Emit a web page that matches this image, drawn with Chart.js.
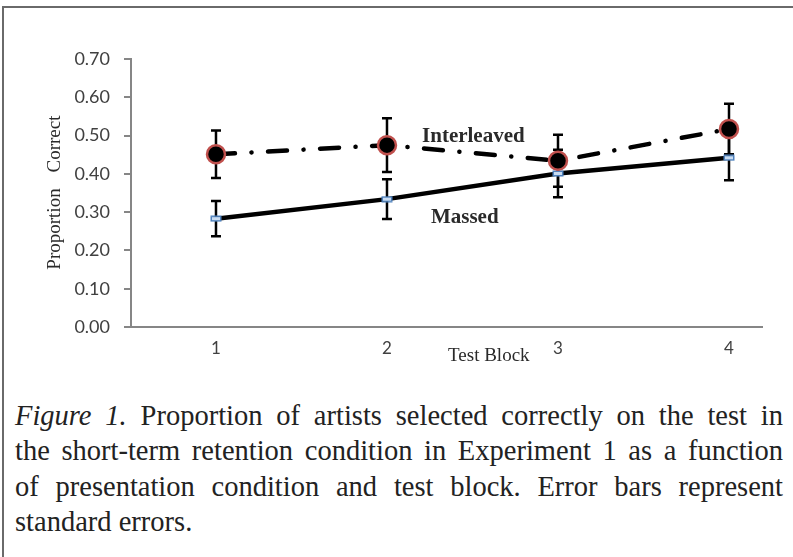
<!DOCTYPE html>
<html>
<head>
<meta charset="utf-8">
<script src="https://cdn.jsdelivr.net/npm/chart.js@4.4.1/dist/chart.umd.min.js"></script>
<style>
  html, body { margin: 0; padding: 0; background: #fff; overflow: hidden; }
  body { width: 793px; height: 557px; position: relative; }
  #frame { position: absolute; left: 2px; top: 6px; width: 820px; height: 600px;
           border-left: 2px solid #6a6a6a; border-top: 2px solid #6a6a6a; }
  #chart { position: absolute; left: 0; top: 0; }
  #caption { position: absolute; left: 15px; top: 398px; width: 768px;
             font-family: "Liberation Serif", "Times New Roman", serif;
             font-size: 28.5px; line-height: 35.3px; color: #222; }
  #caption div { white-space: nowrap; }
</style>
</head>
<body>
<div id="frame"></div>
<canvas id="chart" width="793" height="380"></canvas>
<div id="caption">
  <div><span><i>Figure 1.</i> Proportion of artists selected correctly on the test in</span></div>
  <div><span>the short-term retention condition in Experiment 1 as a function</span></div>
  <div><span>of presentation condition and test block. Error bars represent</span></div>
  <div class="last"><span>standard errors.</span></div>
</div>
<script>
// test blocks on the x axis
const blocks = [1, 2, 3, 4];

// proportion correct
const interleaved = [0.451, 0.475, 0.434, 0.517];
const interleavedErr = [0.062, 0.070, 0.068, 0.066];
const massed = [0.283, 0.334, 0.401, 0.442];
const massedErr = [0.046, 0.052, 0.062, 0.059];

const yTicks = [0, 0.1, 0.2, 0.3, 0.4, 0.5, 0.6, 0.7];

const axisGray = '#868686';

// justify the caption lines by hand (each line keeps its own break)
document.querySelectorAll('#caption div').forEach((line) => {
  if (line.classList.contains('last')) return;
  const span = line.querySelector('span');
  const w = span.getBoundingClientRect().width;
  const gaps = span.textContent.trim().split(/\s+/).length - 1;
  line.style.wordSpacing = ((768 - w) / gaps) + 'px';
});

// little blue box marker for the massed line
const massMark = document.createElement('canvas');
massMark.width = 12;
massMark.height = 7;
const mctx = massMark.getContext('2d');
mctx.fillStyle = '#c9dcf1';
mctx.fillRect(1, 1, 10, 5);
mctx.strokeStyle = '#4f81bd';
mctx.lineWidth = 1.5;
mctx.strokeRect(1.25, 1.25, 9.5, 4.5);

const toPoints = (vals) => blocks.map((b, i) => ({ x: b, y: vals[i] }));

// error bars, drawn under the lines
const errorBars = {
  id: 'errorBars',
  beforeDatasetsDraw(chart) {
    const ctx = chart.ctx;
    const xs = chart.scales.x, ys = chart.scales.y;
    const sets = [[interleaved, interleavedErr], [massed, massedErr]];
    ctx.save();
    ctx.strokeStyle = '#000';
    ctx.lineWidth = 2.5;
    sets.forEach(([vals, errs]) => {
      blocks.forEach((b, i) => {
        const px = xs.getPixelForValue(b);
        const top = ys.getPixelForValue(vals[i] + errs[i]);
        const bot = ys.getPixelForValue(vals[i] - errs[i]);
        ctx.beginPath();
        ctx.moveTo(px, top); ctx.lineTo(px, bot);
        ctx.moveTo(px - 5, top); ctx.lineTo(px + 5, top);
        ctx.moveTo(px - 5, bot); ctx.lineTo(px + 5, bot);
        ctx.stroke();
      });
    });
    ctx.restore();
  }
};

// series labels and axis titles
const labels = {
  id: 'labels',
  afterDraw(chart) {
    const ctx = chart.ctx;
    const xs = chart.scales.x, ys = chart.scales.y;
    const area = chart.chartArea;
    ctx.save();
    ctx.fillStyle = '#2a2a2a';
    ctx.textAlign = 'left';
    ctx.textBaseline = 'alphabetic';
    ctx.font = 'bold 21px "Liberation Serif"';
    ctx.fillText('Interleaved', xs.getPixelForValue(2.205), ys.getPixelForValue(0.484));
    ctx.fillText('Massed', xs.getPixelForValue(2.257), ys.getPixelForValue(0.271));

    ctx.font = '19px "Liberation Serif"';
    ctx.fillText('Test Block', xs.getPixelForValue(2.357), area.bottom + 34);

    // y title, two words spread apart
    ctx.translate(area.left - 76, 0);
    ctx.rotate(-Math.PI / 2);
    ctx.textAlign = 'center';
    ctx.textBaseline = 'middle';
    ctx.fillText('Proportion', -ys.getPixelForValue(0.256), 0);
    ctx.fillText('Correct', -ys.getPixelForValue(0.478), 0);
    ctx.restore();
  }
};

new Chart(document.getElementById('chart'), {
  type: 'line',
  data: {
    datasets: [
      {
        label: 'Interleaved',
        data: toPoints(interleaved),
        borderColor: '#000',
        borderWidth: 4.5,
        borderDash: [19, 16.5, 0.1, 16.5],
        borderCapStyle: 'round',
        pointRadius: 9,
        pointBorderWidth: 2.5,
        pointBackgroundColor: '#000',
        pointBorderColor: '#c0504d',
        tension: 0
      },
      {
        label: 'Massed',
        data: toPoints(massed),
        borderColor: '#000',
        borderWidth: 4.5,
        pointStyle: massMark,
        tension: 0
      }
    ]
  },
  options: {
    responsive: false,
    animation: false,
    devicePixelRatio: 1,
    layout: { padding: { top: 59, right: 31, left: 0, bottom: 0 } },
    plugins: { legend: { display: false }, tooltip: { enabled: false } },
    scales: {
      x: {
        type: 'linear',
        min: 0.503,
        max: 4.193,
        afterBuildTicks: (s) => { s.ticks = blocks.map(v => ({ value: v })); },
        afterFit: (s) => { s.height = 53; },
        grid: { display: false, drawTicks: false },
        border: { display: true, color: axisGray, width: 2 },
        ticks: {
          padding: 11,
          color: '#404040',
          font: { family: 'Lato', size: 17 },
          callback: (v) => String(v)
        }
      },
      y: {
        min: 0,
        max: 0.7,
        afterBuildTicks: (s) => { s.ticks = yTicks.map(v => ({ value: v })); },
        afterFit: (s) => { s.width = 131; },
        grid: { drawOnChartArea: false, drawTicks: true, tickLength: 7, color: axisGray, lineWidth: 2 },
        border: { display: true, color: axisGray, width: 2 },
        ticks: {
          padding: 14,
          color: '#404040',
          font: { family: 'Lato', size: 18 },
          callback: (v) => v.toFixed(2)
        }
      }
    }
  },
  plugins: [errorBars, labels]
});
</script>
</body>
</html>
